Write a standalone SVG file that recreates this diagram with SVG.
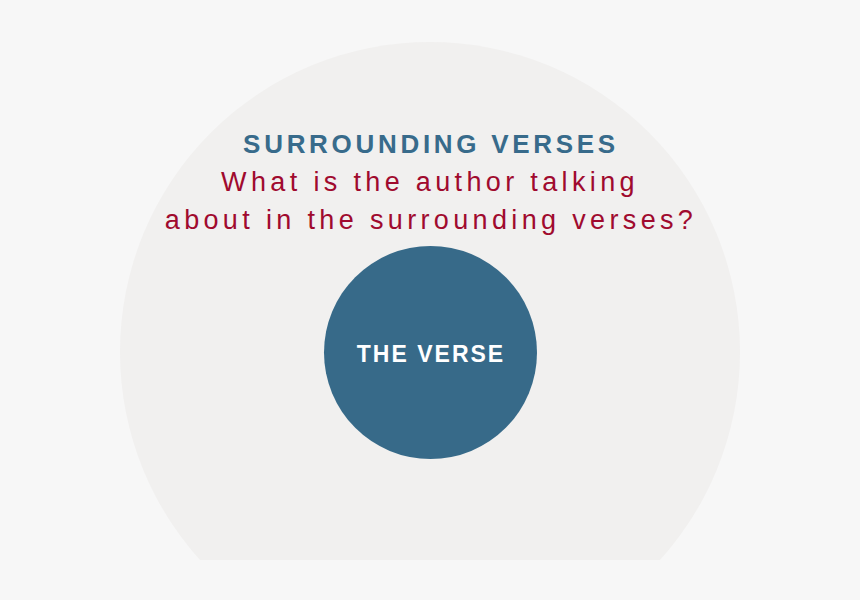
<svg xmlns="http://www.w3.org/2000/svg" width="860" height="600" viewBox="0 0 860 600">
  <defs>
    <clipPath id="cut"><rect x="0" y="0" width="860" height="560"/></clipPath>
    <style>
      .title { font-family: "Liberation Sans", Arial, sans-serif; font-weight: bold; font-size: 26px; fill: #386b8b; letter-spacing: 3.7px; text-anchor: middle; }
      .q { font-family: "Liberation Sans", Arial, sans-serif; font-size: 27px; fill: #a00a2e; letter-spacing: 4.35px; text-anchor: middle; }
      .inner { font-family: "Liberation Sans", Arial, sans-serif; font-weight: bold; font-size: 23px; fill: #ffffff; letter-spacing: 2px; text-anchor: middle; }
    </style>
  </defs>
  <rect x="0" y="0" width="860" height="600" fill="#f7f7f7"/>
  <g id="surrounding">
    <circle cx="430" cy="352" r="310" fill="#f1f0ef" clip-path="url(#cut)"/>
    <text class="title" x="431" y="153">SURROUNDING VERSES</text>
    <text class="q" x="430" y="191">What is the author talking</text>
    <text class="q" x="431" y="229">about in the surrounding verses?</text>
  </g>
  <g id="verse">
    <circle cx="430.5" cy="352.5" r="106.5" fill="#376a89"/>
    <text class="inner" x="431" y="362">THE VERSE</text>
  </g>
  <g id="connectors"/>
</svg>
